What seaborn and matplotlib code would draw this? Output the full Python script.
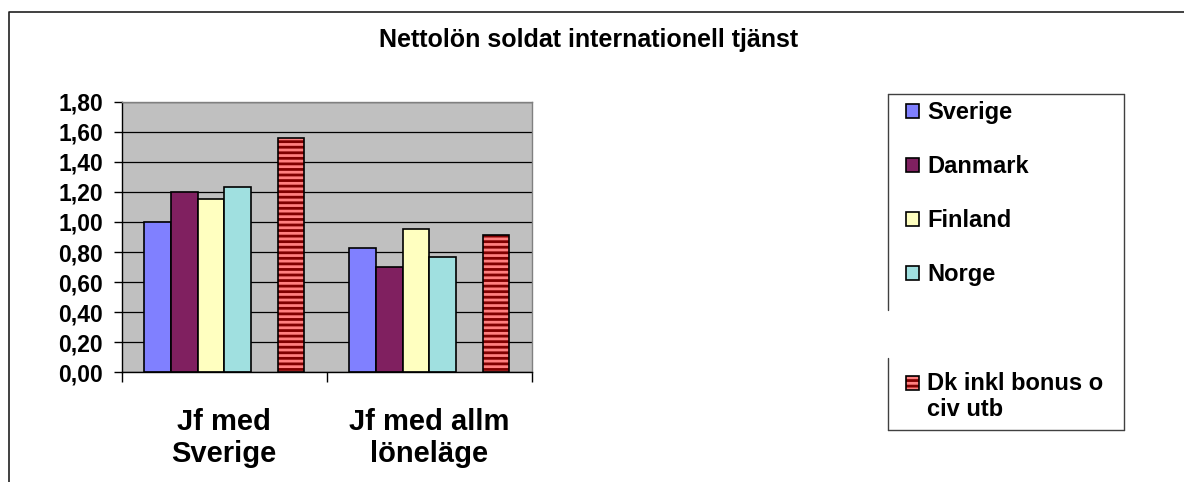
import numpy as np
import pandas as pd
import matplotlib
matplotlib.use("Agg")
import matplotlib.pyplot as plt
from matplotlib.patches import Patch
from matplotlib.lines import Line2D
from matplotlib.ticker import FixedLocator
from matplotlib.legend_handler import HandlerTuple
import seaborn as sns

# --- data -------------------------------------------------------------
categories = ["Jf med\nSverige", "Jf med allm\nlöneläge"]
series = ["Sverige", "Danmark", "Finland", "Norge", " ", "Dk inkl bonus o\nciv utb"]
sverige = [1.00, 0.83]
danmark = [1.20, 0.70]
finland = [1.15, 0.95]
norge = [1.23, 0.77]
blank = [np.nan, np.nan]
dk_bonus = [1.56, 0.91]
y_ticks = [0.0, 0.2, 0.4, 0.6, 0.8, 1.0, 1.2, 1.4, 1.6, 1.8]

colors = ["#8080FF", "#802060", "#FFFFC0", "#A0E0E0", "#FFFFFF", "#FF8080"]
stripe_color = "#800000"

rows = []
for name, vals in zip(series, [sverige, danmark, finland, norge, blank, dk_bonus]):
    for cat, v in zip(categories, vals):
        if not np.isnan(v):
            rows.append({"kategori": cat, "land": name, "kvot": v})
df = pd.DataFrame(rows)

# --- style ------------------------------------------------------------
sns.set_theme(style="white")
plt.rcParams["font.family"] = ["Liberation Sans", "DejaVu Sans"]
plt.rcParams["font.weight"] = "bold"
plt.rcParams["text.color"] = "black"
plt.rcParams["xtick.color"] = "black"
plt.rcParams["ytick.color"] = "black"
plt.rcParams["xtick.labelcolor"] = "black"
plt.rcParams["ytick.labelcolor"] = "black"
plt.rcParams["hatch.linewidth"] = 2.0

fig = plt.figure(figsize=(11.84, 4.82), dpi=100)
fig.patch.set_facecolor("white")
ax = fig.add_axes([121.7 / 1184, 1 - 372.3 / 482, 410 / 1184, 270.6 / 482])
ax.set_facecolor("#C0C0C0")
ax.set_axisbelow(True)

sns.barplot(data=df, x="kategori", y="kvot", hue="land",
            order=categories, hue_order=series, palette=colors,
            width=0.78, gap=0, saturation=1, edgecolor="black",
            linewidth=1.2, errorbar=None, legend=False, ax=ax)

# striped fill for the bonus series, with a black outline on top
dk_container = ax.containers[-1]
for p in dk_container.patches:
    p.set_hatch("---")
    p.set_edgecolor(stripe_color)
    p.set_linewidth(0)
    ax.add_patch(plt.Rectangle(p.get_xy(), p.get_width(), p.get_height(),
                               fill=False, edgecolor="black", linewidth=1.2,
                               zorder=p.get_zorder() + 0.1))

ax.set_ylim(0, 1.8)
ax.set_xlim(-0.5, 1.5)
ax.yaxis.set_major_locator(FixedLocator(y_ticks))
ax.set_yticklabels([f"{v:.2f}".replace(".", ",") for v in y_ticks])
ax.grid(axis="y", color="black", linewidth=0.9)
ax.grid(axis="x", visible=False)

ax.set_xticks(range(len(categories)))
ax.set_xticklabels(categories, fontsize=21, fontweight="bold", linespacing=1.15)
ax.xaxis.set_minor_locator(FixedLocator([-0.5, 0.5, 1.5]))
ax.tick_params(axis="x", which="major", length=0, pad=26)
ax.tick_params(axis="x", which="minor", length=7, width=1, color="black",
               direction="out", bottom=True)
ax.tick_params(axis="y", which="major", length=5.5, width=1, color="black",
               direction="out", left=True, labelsize=16.5, pad=8)
for lab in ax.get_yticklabels():
    lab.set_fontweight("bold")
ax.set_xlabel("")
ax.set_ylabel("")

for side in ["left", "bottom"]:
    ax.spines[side].set_color("black")
    ax.spines[side].set_linewidth(1.0)
for side in ["top", "right"]:
    ax.spines[side].set_color("#808080")
    ax.spines[side].set_linewidth(1.0)

# --- title ------------------------------------------------------------
fig.text(589 / 1184, 1 - 40 / 482, "Nettolön soldat internationell tjänst",
         ha="center", va="center", fontsize=18, fontweight="bold", color="black")


# --- legend -----------------------------------------------------------
class FirstLineHandler(HandlerTuple):
    """Overlaid tuple handle aligned with the first line of a two-line label."""

    def create_artists(self, legend, orig_handle, xdescent, ydescent,
                       width, height, fontsize, trans):
        shift = 0.6 * fontsize
        return super().create_artists(legend, orig_handle, xdescent,
                                      ydescent - shift, width, height,
                                      fontsize, trans)


handles = []
for name, col in zip(series, colors):
    if name == " ":
        handles.append(Patch(facecolor="none", edgecolor="none"))
    elif name == series[-1]:
        handles.append((Patch(facecolor=col, edgecolor=stripe_color, hatch="---", linewidth=0),
                        Patch(facecolor="none", edgecolor="black", linewidth=1.2)))
    else:
        handles.append(Patch(facecolor=col, edgecolor="black", linewidth=1.2))

leg = fig.legend(handles, series, loc="upper left",
                 bbox_to_anchor=(906 / 1184, 1 - 101 / 482),
                 frameon=False, prop={"weight": "bold", "size": 17},
                 handlelength=0.55, handleheight=0.55, handletextpad=0.35,
                 labelspacing=1.32, borderpad=0, borderaxespad=0,
                 handler_map={tuple: FirstLineHandler(ndivide=1)})
for t in leg.get_texts():
    t.set_color("black")
    t.set_linespacing(1.2)

# legend box outline (left edge interrupted beside the empty entry)
W, H = 1184, 482
box_col = "#404040"
x0, x1, y0, y1 = 888, 1124, 94, 430
segs = [((x0, y0), (x1, y0)), ((x1, y0), (x1, y1)), ((x0, y1), (x1, y1)),
        ((x0, y0), (x0, 310)), ((x0, 358), (x0, y1))]
for (xa, ya), (xb, yb) in segs:
    fig.add_artist(Line2D([xa / W, xb / W], [1 - ya / H, 1 - yb / H],
                          color=box_col, linewidth=1.0, transform=fig.transFigure))

# outer chart frame (top and left edges)
fig.add_artist(Line2D([9 / W, 9 / W, 1.0], [0.0, 1 - 12 / H, 1 - 12 / H],
                      color="#202020", linewidth=1.2, transform=fig.transFigure))

fig.savefig("out.png", dpi=100, facecolor="white")
